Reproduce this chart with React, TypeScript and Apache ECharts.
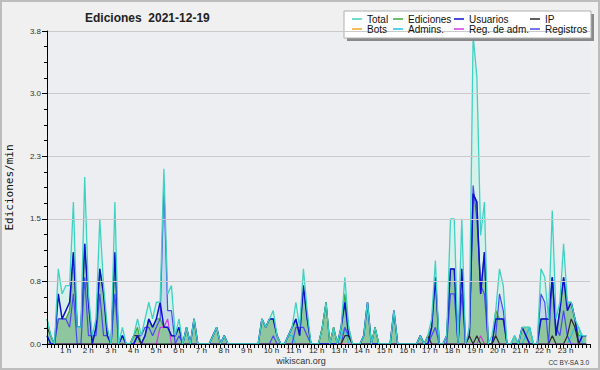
import React, { useEffect, useRef } from "react";
import * as echarts from "echarts";

// 10-minute bins, 144 per day (rows = hours 0..23)
const total = [
  0.3, 0.1, 0.0, 0.9, 0.6, 0.7,
  0.7, 1.7, 0.2, 0.2, 2.0, 0.6,
  0.1, 0.3, 1.5, 0.7, 0.2, 0.0,
  1.7, 0.0, 0.2, 0.0, 0.0, 0.1,
  0.3, 0.1, 0.3, 0.5, 0.3, 0.5,
  0.5, 2.1, 0.6, 0.7, 0.1, 0.3,
  0.0, 0.2, 0.0, 0.3, 0.0, 0.0,
  0.0, 0.0, 0.1, 0.2, 0.0, 0.1,
  0.0, 0.0, 0.0, 0.0, 0.0, 0.0,
  0.0, 0.0, 0.0, 0.3, 0.2, 0.3,
  0.4, 0.1, 0.0, 0.0, 0.1, 0.2,
  0.5, 0.2, 0.9, 0.4, 0.0, 0.0,
  0.0, 0.2, 0.5, 0.0, 0.2, 0.0,
  0.2, 0.8, 0.2, 0.0, 0.0, 0.0,
  0.1, 0.5, 0.0, 0.2, 0.0, 0.0,
  0.0, 0.0, 0.4, 0.0, 0.0, 0.0,
  0.0, 0.0, 0.0, 0.1, 0.0, 0.1,
  0.3, 1.0, 0.0, 0.0, 0.1, 1.5,
  1.5, 0.0, 1.5, 0.0, 0.2, 3.7,
  3.2, 1.3, 1.7, 0.0, 0.1, 0.4,
  0.9, 0.7, 0.0, 0.0, 0.1, 0.0,
  0.2, 0.2, 0.2, 0.0, 0.0, 0.9,
  0.8, 0.3, 1.6, 0.3, 0.5, 1.2,
  0.5, 0.5, 0.3, 0.2, 0.1, 0.1,
];

const ediciones = [
  0.3, 0.1, 0.0, 0.3, 0.3, 0.3,
  0.4, 1.1, 0.2, 0.2, 1.2, 0.5,
  0.0, 0.2, 0.9, 0.6, 0.1, 0.0,
  1.1, 0.0, 0.1, 0.0, 0.0, 0.1,
  0.2, 0.0, 0.1, 0.3, 0.2, 0.3,
  0.3, 0.2, 0.2, 0.1, 0.1, 0.2,
  0.0, 0.2, 0.0, 0.3, 0.0, 0.0,
  0.0, 0.0, 0.1, 0.2, 0.0, 0.1,
  0.0, 0.0, 0.0, 0.0, 0.0, 0.0,
  0.0, 0.0, 0.0, 0.3, 0.2, 0.3,
  0.3, 0.1, 0.0, 0.0, 0.1, 0.2,
  0.3, 0.1, 0.7, 0.3, 0.0, 0.0,
  0.0, 0.2, 0.5, 0.0, 0.2, 0.0,
  0.2, 0.6, 0.2, 0.0, 0.0, 0.0,
  0.1, 0.5, 0.0, 0.2, 0.0, 0.0,
  0.0, 0.0, 0.4, 0.0, 0.0, 0.0,
  0.0, 0.0, 0.0, 0.1, 0.0, 0.1,
  0.2, 0.8, 0.0, 0.0, 0.1, 0.9,
  0.9, 0.0, 0.9, 0.0, 0.1, 1.8,
  1.7, 0.6, 1.1, 0.0, 0.0, 0.4,
  0.3, 0.3, 0.0, 0.0, 0.1, 0.0,
  0.2, 0.2, 0.2, 0.0, 0.0, 0.3,
  0.3, 0.3, 0.8, 0.1, 0.4, 0.8,
  0.5, 0.5, 0.3, 0.1, 0.1, 0.1,
];

const usuarios = [
  0.1, 0.0, 0.0, 0.6, 0.3, 0.4,
  0.5, 1.1, 0.2, 0.2, 1.2, 0.5,
  0.0, 0.2, 0.9, 0.6, 0.1, 0.0,
  1.1, 0.0, 0.1, 0.0, 0.0, 0.0,
  0.1, 0.0, 0.1, 0.3, 0.2, 0.3,
  0.5, 0.2, 0.2, 0.1, 0.1, 0.2,
  0.0, 0.2, 0.0, 0.3, 0.0, 0.0,
  0.0, 0.0, 0.1, 0.2, 0.0, 0.1,
  0.0, 0.0, 0.0, 0.0, 0.0, 0.0,
  0.0, 0.0, 0.0, 0.3, 0.2, 0.3,
  0.3, 0.1, 0.0, 0.0, 0.1, 0.2,
  0.3, 0.1, 0.7, 0.3, 0.0, 0.0,
  0.0, 0.0, 0.0, 0.0, 0.0, 0.0,
  0.2, 0.5, 0.1, 0.0, 0.0, 0.0,
  0.1, 0.5, 0.0, 0.0, 0.0, 0.0,
  0.0, 0.0, 0.4, 0.0, 0.0, 0.0,
  0.0, 0.0, 0.0, 0.1, 0.0, 0.0,
  0.2, 0.8, 0.0, 0.0, 0.1, 0.9,
  0.9, 0.0, 0.9, 0.0, 0.1, 1.8,
  1.7, 0.6, 1.1, 0.0, 0.0, 0.3,
  0.3, 0.3, 0.0, 0.0, 0.0, 0.0,
  0.2, 0.1, 0.0, 0.0, 0.0, 0.3,
  0.3, 0.3, 0.8, 0.1, 0.4, 0.8,
  0.4, 0.5, 0.3, 0.0, 0.1, 0.1,
];

const ip = [
  0.2, 0.1, 0.0, 0.0, 0.0, 0.0,
  0.0, 0.0, 0.0, 0.0, 0.0, 0.0,
  0.0, 0.0, 0.0, 0.0, 0.0, 0.0,
  0.0, 0.0, 0.0, 0.0, 0.0, 0.1,
  0.1, 0.0, 0.0, 0.0, 0.0, 0.0,
  0.0, 0.0, 0.0, 0.0, 0.0, 0.0,
  0.0, 0.0, 0.0, 0.0, 0.0, 0.0,
  0.0, 0.0, 0.0, 0.0, 0.0, 0.0,
  0.0, 0.0, 0.0, 0.0, 0.0, 0.0,
  0.0, 0.0, 0.0, 0.0, 0.0, 0.0,
  0.0, 0.0, 0.0, 0.0, 0.0, 0.0,
  0.0, 0.0, 0.0, 0.0, 0.0, 0.0,
  0.0, 0.2, 0.5, 0.0, 0.2, 0.0,
  0.0, 0.1, 0.1, 0.0, 0.0, 0.0,
  0.0, 0.0, 0.0, 0.2, 0.0, 0.0,
  0.0, 0.0, 0.0, 0.0, 0.0, 0.0,
  0.0, 0.0, 0.0, 0.0, 0.0, 0.1,
  0.0, 0.0, 0.0, 0.0, 0.0, 0.0,
  0.0, 0.0, 0.0, 0.0, 0.1, 0.0,
  0.1, 0.0, 0.0, 0.0, 0.0, 0.1,
  0.0, 0.0, 0.0, 0.0, 0.0, 0.0,
  0.0, 0.0, 0.0, 0.0, 0.0, 0.0,
  0.0, 0.0, 0.1, 0.0, 0.0, 0.0,
  0.1, 0.3, 0.2, 0.0, 0.0, 0.0,
];

const registros = [
  0.0, 0.0, 0.0, 0.3, 0.3, 0.3,
  0.2, 0.6, 0.0, 0.0, 0.8, 0.1,
  0.1, 0.1, 0.6, 0.1, 0.1, 0.0,
  0.6, 0.0, 0.1, 0.0, 0.0, 0.0,
  0.1, 0.1, 0.2, 0.2, 0.1, 0.2,
  0.3, 1.9, 0.4, 0.4, 0.0, 0.1,
  0.0, 0.0, 0.0, 0.0, 0.0, 0.0,
  0.0, 0.0, 0.0, 0.0, 0.0, 0.0,
  0.0, 0.0, 0.0, 0.0, 0.0, 0.0,
  0.0, 0.0, 0.0, 0.0, 0.0, 0.0,
  0.1, 0.0, 0.0, 0.0, 0.0, 0.0,
  0.2, 0.2, 0.2, 0.1, 0.0, 0.0,
  0.0, 0.0, 0.0, 0.0, 0.0, 0.0,
  0.0, 0.2, 0.1, 0.0, 0.0, 0.0,
  0.0, 0.0, 0.0, 0.0, 0.0, 0.0,
  0.0, 0.0, 0.0, 0.0, 0.0, 0.0,
  0.0, 0.0, 0.0, 0.0, 0.0, 0.0,
  0.1, 0.2, 0.0, 0.0, 0.0, 0.6,
  0.6, 0.0, 0.6, 0.0, 0.1, 1.9,
  1.5, 0.7, 0.6, 0.0, 0.0, 0.1,
  0.6, 0.4, 0.0, 0.0, 0.0, 0.0,
  0.0, 0.0, 0.0, 0.0, 0.0, 0.6,
  0.5, 0.0, 0.8, 0.2, 0.1, 0.4,
  0.1, 0.0, 0.0, 0.0, 0.0, 0.0,
];

const admins = [
  0.1, 0.0, 0.0, 0.0, 0.0, 0.0,
  0.0, 0.0, 0.0, 0.0, 0.0, 0.0,
  0.0, 0.0, 0.0, 0.0, 0.0, 0.0,
  0.0, 0.0, 0.0, 0.0, 0.0, 0.0,
  0.1, 0.0, 0.0, 0.0, 0.0, 0.0,
  0.0, 0.0, 0.0, 0.0, 0.0, 0.0,
  0.0, 0.0, 0.0, 0.0, 0.0, 0.0,
  0.0, 0.0, 0.0, 0.0, 0.0, 0.0,
  0.0, 0.0, 0.0, 0.0, 0.0, 0.0,
  0.0, 0.0, 0.0, 0.0, 0.0, 0.0,
  0.0, 0.0, 0.0, 0.0, 0.1, 0.1,
  0.0, 0.0, 0.0, 0.0, 0.0, 0.0,
  0.0, 0.0, 0.0, 0.0, 0.0, 0.0,
  0.1, 0.2, 0.0, 0.0, 0.0, 0.0,
  0.0, 0.0, 0.0, 0.0, 0.0, 0.0,
  0.0, 0.0, 0.0, 0.0, 0.0, 0.0,
  0.0, 0.0, 0.0, 0.0, 0.0, 0.0,
  0.0, 0.0, 0.0, 0.0, 0.0, 0.0,
  0.0, 0.0, 0.0, 0.0, 0.0, 0.0,
  0.0, 0.0, 0.0, 0.0, 0.0, 0.0,
  0.0, 0.0, 0.0, 0.0, 0.1, 0.0,
  0.0, 0.1, 0.2, 0.0, 0.0, 0.0,
  0.0, 0.0, 0.0, 0.0, 0.0, 0.0,
  0.0, 0.1, 0.2, 0.2, 0.0, 0.0,
];

const regAdm = [
  0, 0, 0, 0, 0, 0,  0, 0, 0, 0, 0, 0,  0, 0, 0, 0, 0, 0,  0, 0, 0, 0, 0, 0,
  0, 0, 0, 0, 0, 0,  0.2, 0.2, 0.3, 0, 0, 0,  0, 0, 0, 0, 0, 0,  0, 0, 0, 0, 0, 0,
  0, 0, 0, 0, 0, 0,  0, 0, 0, 0, 0, 0,  0, 0, 0, 0, 0, 0,  0, 0, 0, 0, 0, 0,
  0, 0, 0, 0, 0, 0,  0, 0, 0, 0, 0, 0,  0, 0, 0, 0, 0, 0,  0, 0, 0, 0, 0, 0,
  0, 0, 0, 0, 0, 0,  0, 0, 0, 0, 0, 0,  0, 0, 0, 0, 0, 0,  0, 0.1, 0, 0, 0, 0,
  0, 0, 0, 0, 0, 0,  0, 0, 0, 0, 0, 0,  0, 0, 0, 0, 0, 0,  0, 0, 0, 0, 0, 0,
];

const bots = [
  0, 0, 0, 0, 0, 0,  0, 0, 0, 0, 0, 0,  0, 0, 0, 0, 0, 0,  0, 0, 0, 0, 0, 0,
  0, 0, 0, 0, 0, 0,  0, 0, 0, 0, 0, 0,  0, 0, 0, 0, 0, 0,  0, 0, 0, 0, 0, 0,
  0, 0, 0, 0, 0, 0,  0, 0, 0, 0, 0, 0,  0, 0, 0, 0, 0, 0,  0, 0, 0, 0, 0, 0,
  0, 0, 0, 0, 0, 0,  0, 0, 0, 0, 0, 0,  0, 0, 0, 0, 0, 0,  0, 0, 0, 0, 0, 0,
  0, 0, 0, 0, 0, 0,  0, 0, 0, 0, 0, 0,  0, 0, 0, 0, 0, 0,  0, 0, 0, 0, 0, 0,
  0, 0, 0, 0, 0, 0,  0, 0, 0, 0, 0, 0,  0, 0, 0, 0, 0, 0,  0, 0, 0, 0, 0, 0,
];

const hourLabels = [
  "1 h", "2 h", "3 h", "4 h", "5 h", "6 h", "7 h", "8 h", "9 h", "10 h", "11 h", "12 h",
  "13 h", "14 h", "15 h", "16 h", "17 h", "18 h", "19 h", "20 h", "21 h", "22 h", "23 h",
];

const TITLE = "Ediciones  2021-12-19";
const Y_NAME = "Ediciones/min";
const BINS_PER_HOUR = 6;
const LABEL_SHIFT = 2.55; // labels start a little left of the hour tick

const FONT = "Liberation Sans";

export default function App() {
  const ref = useRef<HTMLDivElement>(null);

  useEffect(() => {
    if (!ref.current) return;
    const chart = echarts.init(ref.current, undefined, { renderer: "svg" });
    const pts = (arr: number[]) => arr.map((v, i) => [i, v]);

    const lineSeries = (name: string, data: number[], color: string, width = 1.2) => ({
      name,
      type: "line",
      data: pts(data),
      symbol: "none",
      z: 3,
      color,
      lineStyle: { color, width },
      animation: false,
    });
    const areaSeries = (name: string, data: number[], fill: string, z: number) => ({
      name: name + "-area",
      type: "line",
      data: pts(data),
      symbol: "none",
      silent: true,
      z,
      lineStyle: { width: 0, opacity: 0 },
      areaStyle: { color: fill, opacity: 1 },
      animation: false,
    });

    const legendBase = {
      orient: "vertical",
      top: 14,
      icon: "rect",
      itemWidth: 10,
      itemHeight: 1.5,
      itemGap: 0,
      padding: 0,
      z: 12,
      selectedMode: false,
      textStyle: { fontFamily: FONT, fontSize: 10, color: "#111", lineHeight: 10 },
    };

    chart.setOption({
      animation: false,
      backgroundColor: "#f0f0f0",
      title: {
        text: TITLE,
        left: 85,
        top: 12,
        padding: 0,
        textStyle: { fontFamily: FONT, fontSize: 12, fontWeight: "bold", color: "#222" },
      },
      legend: [
        { ...legendBase, left: 352, data: ["Total", "Bots"] },
        { ...legendBase, left: 393, data: ["Ediciones", "Admins."] },
        { ...legendBase, left: 454, data: ["Usuarios", "Reg. de adm."] },
        { ...legendBase, left: 530, data: ["IP", "Registros"] },
      ],
      grid: {
        left: 47,
        right: 10,
        top: 31,
        bottom: 26,
        containLabel: false,
        outerBoundsMode: "none",
        show: true,
        backgroundColor: "#eceef1",
        borderWidth: 0,
      },
      xAxis: {
        type: "value",
        min: 0,
        max: 24 * BINS_PER_HOUR,
        interval: BINS_PER_HOUR,
        z: 10,
        axisLine: { show: true, onZero: false, lineStyle: { color: "#000", width: 1 } },
        axisTick: { show: true, length: 4, lineStyle: { color: "#000" } },
        minorTick: { show: true, splitNumber: 6, length: 4, lineStyle: { color: "#000" } },
        splitLine: { show: false },
        axisLabel: {
          customValues: hourLabels.map((_, k) => (k + 1) * BINS_PER_HOUR - LABEL_SHIFT),
          formatter: (v: number) => hourLabels[Math.round((v + LABEL_SHIFT) / BINS_PER_HOUR) - 1] ?? "",
          align: "left",
          margin: 2,
          fontFamily: FONT,
          fontSize: 8,
          color: "#222",
          hideOverlap: false,
        },
      },
      yAxis: {
        type: "value",
        min: 0,
        max: 3.75,
        interval: 0.75,
        z: 10,
        name: Y_NAME,
        nameLocation: "middle",
        nameRotate: 90,
        nameGap: 32,
        nameTextStyle: { fontFamily: "DejaVu Sans Mono", fontSize: 11, color: "#111" },
        axisLine: { show: true, lineStyle: { color: "#000", width: 1 } },
        axisTick: { show: true, length: 5, lineStyle: { color: "#000" } },
        minorTick: { show: true, splitNumber: 4, length: 3, lineStyle: { color: "#000" } },
        splitLine: { show: true, lineStyle: { color: "#cacaca", width: 1 } },
        axisLabel: {
          formatter: (v: number) => v.toFixed(1),
          margin: 6,
          fontFamily: FONT,
          fontSize: 8,
          color: "#333",
        },
      },
      graphic: [
        {
          type: "rect",
          z: 0,
          silent: true,
          shape: { x: 1, y: 1, width: 598, height: 368 },
          style: { fill: "none", stroke: "#bdbdbd", lineWidth: 2 },
        },
        {
          type: "rect",
          z: 8,
          silent: true,
          shape: { x: 347, y: 14, width: 247, height: 27 },
          style: { fill: "#8a8a8a" },
        },
        {
          type: "rect",
          z: 9,
          silent: true,
          shape: { x: 344, y: 11, width: 247, height: 27 },
          style: { fill: "#ffffff", stroke: "#b0b0b0", lineWidth: 1 },
        },
        {
          type: "text",
          z: 9,
          silent: true,
          x: 301,
          y: 361,
          style: {
            text: "wikiscan.org",
            fontFamily: FONT,
            fontSize: 9,
            fill: "#333",
            align: "center",
            verticalAlign: "middle",
          },
        },
        {
          type: "text",
          z: 9,
          silent: true,
          x: 589,
          y: 362,
          style: {
            text: "CC BY-SA 3.0",
            fontFamily: FONT,
            fontSize: 6.5,
            fill: "#333",
            align: "right",
            verticalAlign: "middle",
          },
        },
      ],
      series: [
        areaSeries("Total", total, "#d6f1ea", 1),
        areaSeries("Registros", registros, "#c3dae9", 1.5),
        areaSeries("Ediciones", ediciones, "#8fc69d", 2),
        lineSeries("Ediciones", ediciones, "#3caa3c"),
        lineSeries("Bots", bots, "#f5a623"),
        lineSeries("Admins.", admins, "#1fc3e6"),
        lineSeries("Reg. de adm.", regAdm, "#d63ae0"),
        lineSeries("Registros", registros, "#4a4af2"),
        lineSeries("Usuarios", usuarios, "#1010d0", 1.5),
        lineSeries("IP", ip, "#2b2b2b"),
        lineSeries("Total", total, "#3fd2c2", 1.3),
      ],
    } as any);

    return () => chart.dispose();
  }, []);

  return (
    <div
      ref={ref}
      style={{ position: "fixed", left: 0, top: 0, width: 600, height: 370 }}
    />
  );
}
